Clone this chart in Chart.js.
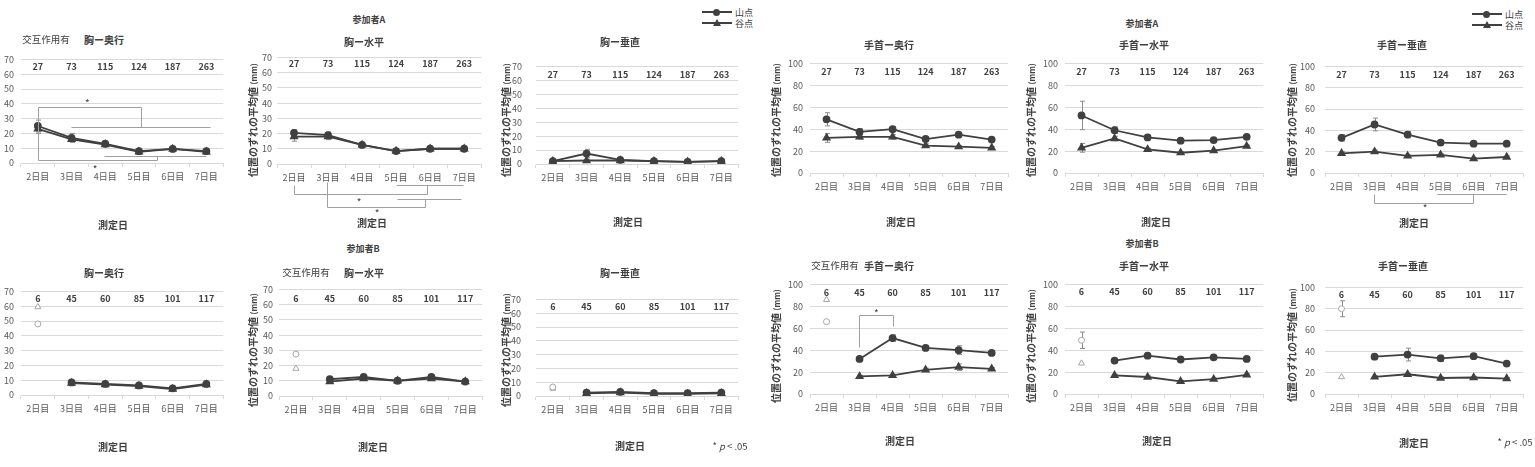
<!DOCTYPE html>
<html><head><meta charset="utf-8">
<script src="https://cdn.jsdelivr.net/npm/chart.js@4.4.1/dist/chart.umd.min.js"></script>
<style>
html,body{margin:0;padding:0;background:#fff;}
#wrap{position:relative;width:1535px;height:467px;overflow:hidden;font-family:"Noto Sans CJK JP",sans-serif;color:#404040;}
canvas{position:absolute;}
.t{position:absolute;white-space:nowrap;transform:translate(-50%,-50%);line-height:1;}
.b{font-weight:bold;}
.yt{position:absolute;white-space:nowrap;transform:translate(-50%,-50%) rotate(-90deg);line-height:1;font-weight:bold;font-size:10px;}
.yt small{font-size:8px;}
.legline{position:absolute;height:2px;background:#404040;}
.circ{position:absolute;width:7px;height:7px;border-radius:50%;background:#404040;}
.tri{position:absolute;width:0;height:0;border-left:4px solid transparent;border-right:4px solid transparent;border-bottom:7px solid #404040;}
</style></head>
<body><div id="wrap"></div>
<script>
// ---------- data ----------
const days = ['2日目','3日目','4日目','5日目','6日目','7日目'];
const nA = [27,73,115,124,187,263];
const nB = [6,45,60,85,101,117];

// participant A
const aChestDepthPeak = [25,17,13,8,9.5,8];
const aChestDepthValley = [23,16,12.5,7.5,9.5,7.5];
const aChestDepthPeakErr = [4,3,1.5,1,1,1];
const aChestDepthValleyErr = [3,2,1.5,1,1,1];

const aChestHorPeak = [20.5,19,12.5,8.5,10,10];
const aChestHorValley = [18,18,12.5,8.5,10,10];
const aChestHorPeakErr = [2,2,1,1,1,0.5];
const aChestHorValleyErr = [3,2,1,1,1,0.5];

const aChestVertPeak = [2,7.5,3,2,1.5,2];
const aChestVertValley = [2,2.5,2.5,2,1.5,2];
const aChestVertPeakErr = [0.5,3,1,0.5,0.5,0.5];
const aChestVertValleyErr = [0.5,0.5,0.5,0.5,0.5,0.5];

const aWristDepthPeak = [49,37.5,40,31,35,30.5];
const aWristDepthValley = [32,33,33,25,24,23];
const aWristDepthPeakErr = [6,3,2,2,1.5,1.5];
const aWristDepthValleyErr = [4,2,2,1.5,1,1];

const aWristHorPeak = [52.5,39,32.5,29.5,30,33];
const aWristHorValley = [23,31.5,21.5,18.5,20.5,24.5];
const aWristHorPeakErr = [13,3,2,2,2,2];
const aWristHorValleyErr = [4,2,1,1,1,1];

const aWristVertPeak = [33,45.5,36,28.5,27.5,27.5];
const aWristVertValley = [18.5,20,16,17,13.5,15];
const aWristVertPeakErr = [3,6,3,2,1,1];
const aWristVertValleyErr = [1.5,1.5,1,1,1,1];

// participant B (day 2 shown as separate open markers)
const bChestDepthPeak = [null,8.5,7.5,6.5,4.5,7.5];
const bChestDepthValley = [null,8,7,6,4,7];
const bChestDepthPeakErr = [0,1,1,1,1,1];
const bChestDepthValleyErr = [0,1,1,1,1,1];
const bChestDepthPeakDay2 = [48,null,null,null,null,null];
const bChestDepthValleyDay2 = [59.5,null,null,null,null,null];

const bChestHorPeak = [null,11,12.5,10,12.5,9.5];
const bChestHorValley = [null,9.5,11.5,10,11.5,9.5];
const bChestHorPeakErr = [0,1,1,1,1,0.5];
const bChestHorValleyErr = [0,1,1,1,1,0.5];
const bChestHorPeakDay2 = [27.5,null,null,null,null,null];
const bChestHorValleyDay2 = [18,null,null,null,null,null];

const bChestVertPeak = [null,2.5,3,2,2,2.5];
const bChestVertValley = [null,2,2.5,1.5,1.5,2];
const bChestVertPeakErr = [0,0.5,0.5,0.5,0.5,0.5];
const bChestVertValleyErr = [0,0.5,0.5,0.5,0.5,0.5];
const bChestVertPeakDay2 = [6.5,null,null,null,null,null];
const bChestVertValleyDay2 = [5.5,null,null,null,null,null];

const bWristDepthPeak = [null,32,51,42,40,37.5];
const bWristDepthValley = [null,16,17,22,24.5,23];
const bWristDepthPeakErr = [0,2,3,2,4,2];
const bWristDepthValleyErr = [0,1,1,1.5,3,1];
const bWristDepthPeakDay2 = [66,null,null,null,null,null];
const bWristDepthValleyDay2 = [86,null,null,null,null,null];

const bWristHorPeak = [null,30.5,35,31.5,33.5,32];
const bWristHorValley = [null,17,15.5,11.5,13.5,17.5];
const bWristHorPeakErr = [0,2,2,2,2,2];
const bWristHorValleyErr = [0,1,1,1,1,1];
const bWristHorPeakDay2 = [49,null,null,null,null,null];
const bWristHorValleyDay2 = [28,null,null,null,null,null];
const bWristHorPeakDay2Err = [7.5,0,0,0,0,0];

const bWristVertPeak = [null,35,37,33.5,35.5,28.5];
const bWristVertValley = [null,16,18.5,15,15.5,14.5];
const bWristVertPeakErr = [0,2,6,3,2,1];
const bWristVertValleyErr = [0,1,1,1,1,1];
const bWristVertPeakDay2 = [80,null,null,null,null,null];
const bWristVertValleyDay2 = [16,null,null,null,null,null];
const bWristVertPeakDay2Err = [7.5,0,0,0,0,0];

// significance brackets (category index, value)
const sigAChestDepth = [[[0,2],[0,38],[3.05,38],[3.05,24.5]],[[0.97,24.5],[5.1,24.5]],[[0,2],[3.53,2],[3.53,5]],[[1.97,5],[5.0,5]]];
const starAChestDepth = [[1.47,42],[1.7,-3]];
const sigAChestHor = [[[0,-13.7],[0,-19.6],[3.92,-19.6],[3.92,-13.7]],[[3.0,-13.7],[4.97,-13.7]],[[0.98,-11.8],[0.98,-28],[3.86,-28],[3.86,-23]],[[3.02,-23],[4.9,-23]]];
const starAChestHor = [[1.91,-23.5],[2.44,-31]];
const sigAWristVert = [[[0.97,-19.6],[0.97,-28.6],[3.97,-28.6],[3.97,-19.6]],[[2.9,-19.6],[4.99,-19.6]]];
const starAWristVert = [[2.53,-31.5]];
const sigBWristDepth = [[[0.97,43],[0.97,72],[2.02,72],[2.02,62]]];
const starBWristDepth = [[1.51,76]];

// ---------- panels ----------
const panels = [
 {l:21,r:225,t:57,b:163,max:70,step:10,tp:7,ny:7,n:nA,pk:aChestDepthPeak,vl:aChestDepthValley,pke:aChestDepthPeakErr,vle:aChestDepthValleyErr,sig:sigAChestDepth,stars:starAChestDepth},
 {l:277,r:483,t:57,b:164,max:70,step:10,tp:5,ny:6,n:nA,pk:aChestHorPeak,vl:aChestHorValley,pke:aChestHorPeakErr,vle:aChestHorValleyErr,sig:sigAChestHor,stars:starAChestHor},
 {l:536,r:740,t:57,b:164,max:70,step:10,tp:14,ny:8,n:nA,pk:aChestVertPeak,vl:aChestVertValley,pke:aChestVertPeakErr,vle:aChestVertValleyErr},
 {l:810,r:1010,t:61,b:173,max:100,step:20,tp:7,ny:8,n:nA,pk:aWristDepthPeak,vl:aWristDepthValley,pke:aWristDepthPeakErr,vle:aWristDepthValleyErr},
 {l:1065,r:1265,t:61,b:173,max:100,step:20,tp:7,ny:8,n:nA,pk:aWristHorPeak,vl:aWristHorValley,pke:aWristHorPeakErr,vle:aWristHorValleyErr},
 {l:1325,r:1525,t:61,b:173,max:100,step:20,tp:10,ny:8,n:nA,pk:aWristVertPeak,vl:aWristVertValley,pke:aWristVertPeakErr,vle:aWristVertValleyErr,sig:sigAWristVert,stars:starAWristVert},
 {l:21,r:225,t:289,b:395,max:70,step:10,tp:7,ny:7,n:nB,pk:bChestDepthPeak,vl:bChestDepthValley,pke:bChestDepthPeakErr,vle:bChestDepthValleyErr,pk2:bChestDepthPeakDay2,vl2:bChestDepthValleyDay2},
 {l:279,r:484,t:288,b:396,max:70,step:10,tp:6,ny:9,n:nB,pk:bChestHorPeak,vl:bChestHorValley,pke:bChestHorPeakErr,vle:bChestHorValleyErr,pk2:bChestHorPeakDay2,vl2:bChestHorValleyDay2},
 {l:536,r:740,t:289,b:396,max:70,step:10,tp:15,ny:7,n:nB,pk:bChestVertPeak,vl:bChestVertValley,pke:bChestVertPeakErr,vle:bChestVertValleyErr,pk2:bChestVertPeakDay2,vl2:bChestVertValleyDay2},
 {l:810,r:1010,t:282,b:394,max:100,step:20,tp:7,ny:8,n:nB,pk:bWristDepthPeak,vl:bWristDepthValley,pke:bWristDepthPeakErr,vle:bWristDepthValleyErr,pk2:bWristDepthPeakDay2,vl2:bWristDepthValleyDay2,sig:sigBWristDepth,stars:starBWristDepth},
 {l:1065,r:1265,t:282,b:394,max:100,step:20,tp:7,ny:7,n:nB,pk:bWristHorPeak,vl:bWristHorValley,pke:bWristHorPeakErr,vle:bWristHorValleyErr,pk2:bWristHorPeakDay2,vl2:bWristHorValleyDay2,pk2e:bWristHorPeakDay2Err},
 {l:1325,r:1525,t:282,b:394,max:100,step:20,tp:10,ny:7,n:nB,pk:bWristVertPeak,vl:bWristVertValley,pke:bWristVertPeakErr,vle:bWristVertValleyErr,pk2:bWristVertPeakDay2,vl2:bWristVertValleyDay2,pk2e:bWristVertPeakDay2Err}
];

const FONT = '"Noto Sans CJK JP", sans-serif';
const wrap = document.getElementById('wrap');
const LEFTW = 40, TOPP = 10, RIGHTP = 4, XH = 30, BOTP = 30;

function overlayPlugin(p) {
  return {
    id: 'overlay',
    beforeDatasetsDraw(chart) {
      const ctx = chart.ctx, xs = chart.scales.x, ys = chart.scales.y;
      ctx.save(); ctx.strokeStyle = '#8c8c8c'; ctx.lineWidth = 1;
      chart.data.datasets.forEach(ds => {
        if (!ds.errors) return;
        ds.data.forEach((v, i) => {
          const e = ds.errors[i];
          if (v == null || !e) return;
          const x = Math.round(xs.getPixelForValue(i)) + 0.5;
          const y1 = ys.getPixelForValue(v - e), y2 = ys.getPixelForValue(v + e);
          ctx.beginPath();
          ctx.moveTo(x, y1); ctx.lineTo(x, y2);
          ctx.moveTo(x - 2.5, y1); ctx.lineTo(x + 2.5, y1);
          ctx.moveTo(x - 2.5, y2); ctx.lineTo(x + 2.5, y2);
          ctx.stroke();
        });
      });
      ctx.restore();
    },
    afterDraw(chart) {
      const ctx = chart.ctx, xs = chart.scales.x, ys = chart.scales.y, ca = chart.chartArea;
      ctx.save();
      ctx.fillStyle = '#404040';
      ctx.font = 'bold 9px ' + FONT;
      ctx.textAlign = 'center'; ctx.textBaseline = 'middle';
      p.n.forEach((v, i) => ctx.fillText(String(v), xs.getPixelForValue(i), ca.top + p.ny));
      if (p.sig) {
        ctx.strokeStyle = '#a0a0a0'; ctx.lineWidth = 1;
        p.sig.forEach(line => {
          ctx.beginPath();
          line.forEach((pt, k) => {
            const x = Math.round(xs.getPixelForValue(pt[0])) + 0.5;
            const y = Math.round(ys.getPixelForValue(pt[1])) + 0.5;
            if (k === 0) ctx.moveTo(x, y); else ctx.lineTo(x, y);
          });
          ctx.stroke();
        });
      }
      if (p.stars) {
        ctx.font = '10px ' + FONT;
        p.stars.forEach(s => ctx.fillText('*', xs.getPixelForValue(s[0]), ys.getPixelForValue(s[1]) + 2));
      }
      ctx.restore();
    }
  };
}

panels.forEach(p => {
  const c = document.createElement('canvas');
  const w = (p.r - p.l) + LEFTW + RIGHTP;
  const h = (p.b - p.t) + TOPP + XH + BOTP;
  c.width = w; c.height = h;
  c.style.left = (p.l - LEFTW) + 'px';
  c.style.top = (p.t - TOPP) + 'px';
  wrap.appendChild(c);
  const line = '#404040';
  const datasets = [
    {label:'山点', data:p.pk, errors:p.pke, borderColor:line, backgroundColor:line, borderWidth:1.8, pointStyle:'circle', pointRadius:3, spanGaps:false},
    {label:'谷点', data:p.vl, errors:p.vle, borderColor:line, backgroundColor:line, borderWidth:1.8, pointStyle:'triangle', pointRadius:3.5, spanGaps:false}
  ];
  if (p.pk2) {
    datasets.push({label:'山点(2日目)', data:p.pk2, errors:p.pk2e, showLine:false, borderColor:'#a6a6a6', backgroundColor:'#fff', borderWidth:1, pointStyle:'circle', pointRadius:3});
    datasets.push({label:'谷点(2日目)', data:p.vl2, showLine:false, borderColor:'#a6a6a6', backgroundColor:'#fff', borderWidth:1, pointStyle:'triangle', pointRadius:3.5});
  }
  new Chart(c, {
    type:'line',
    data:{labels:days, datasets},
    options:{
      responsive:false, animation:false, devicePixelRatio:1,
      layout:{padding:{left:0, top:TOPP, right:RIGHTP, bottom:BOTP}},
      plugins:{legend:{display:false}, tooltip:{enabled:false}},
      elements:{line:{tension:0}},
      scales:{
        x:{
          offset:true,
          grid:{drawOnChartArea:false, drawTicks:true, tickLength:4, color:'#d9d9d9', offset:true},
          border:{display:true, color:'#d9d9d9'},
          ticks:{color:'#595959', font:{family:FONT, size:9}, padding:4, maxRotation:0, autoSkip:false},
          afterFit(s){ s.height = XH; }
        },
        y:{
          min:0, max:p.max,
          ticks:{stepSize:p.step, color:'#595959', font:{family:FONT, size:9}, padding:p.tp},
          grid:{color:'#d9d9d9', drawTicks:false},
          border:{display:false},
          afterFit(s){ s.width = LEFTW; }
        }
      }
    },
    plugins:[overlayPlugin(p)]
  });
});

// ---------- texts ----------
function addText(txt, x, y, size, bold) {
  const d = document.createElement('div');
  d.className = 't' + (bold ? ' b' : '');
  d.style.left = x + 'px'; d.style.top = y + 'px'; d.style.fontSize = size + 'px';
  d.innerHTML = txt;
  wrap.appendChild(d);
}
function addYTitle(x, y) {
  const d = document.createElement('div');
  d.className = 'yt';
  d.style.left = x + 'px'; d.style.top = y + 'px';
  d.innerHTML = '位置のずれの平均値 <small>(mm)</small>';
  wrap.appendChild(d);
}
const titles = [
  ['胸ー奥行',104,40],['胸ー水平',364,42],['胸ー垂直',620,42],
  ['手首ー奥行',889,45],['手首ー水平',1144,45],['手首ー垂直',1402,45],
  ['胸ー奥行',104,273],['胸ー水平',364,273],['胸ー垂直',620,273],
  ['手首ー奥行',889,266],['手首ー水平',1144,266],['手首ー垂直',1403,266]
];
titles.forEach(t => addText(t[0], t[1], t[2], 10, true));
addText('参加者A', 369, 19, 9, true);
addText('参加者A', 1142, 23, 9, true);
addText('参加者B', 363, 248, 9, true);
addText('参加者B', 1142, 243, 9, true);
addText('交互作用有', 46, 40, 9.5, false);
addText('交互作用有', 306, 273, 9.5, false);
addText('交互作用有', 835, 266, 9.5, false);
[[113,225],[372,223],[628,222],[901,222],[1156,222],[1414,223],[113,447],[373,447],[630,446],[900,441],[1157,441],[1414,443]]
  .forEach(q => addText('測定日', q[0], q[1], 10, true));
[[253,120],[506,120],[776,120],[1031,120],[1292,120],[253,350],[506,350],[776,346],[1031,346],[1292,345]]
  .forEach(q => addYTitle(q[0], q[1]));
addText('* <i>p</i> &lt; .05', 730, 447, 9.5, false);
addText('* <i>p</i> &lt; .05', 1515, 443, 9.5, false);

function addLegend(x, y) {
  [['山点','circ',y],['谷点','tri',y + 11]].forEach(it => {
    const ln = document.createElement('div');
    ln.className = 'legline';
    ln.style.left = x + 'px'; ln.style.top = (it[2] - 1) + 'px'; ln.style.width = '30px';
    wrap.appendChild(ln);
    const m = document.createElement('div');
    m.className = it[1];
    if (it[1] === 'circ') { m.style.left = (x + 11) + 'px'; m.style.top = (it[2] - 3.5) + 'px'; }
    else { m.style.left = (x + 11) + 'px'; m.style.top = (it[2] - 4) + 'px'; }
    wrap.appendChild(m);
    const d = document.createElement('div');
    d.className = 't';
    d.style.left = (x + 42) + 'px'; d.style.top = it[2] + 'px'; d.style.fontSize = '9px';
    d.textContent = it[0];
    wrap.appendChild(d);
  });
}
addLegend(702, 12);
addLegend(1472, 14);
</script>
</body></html>
